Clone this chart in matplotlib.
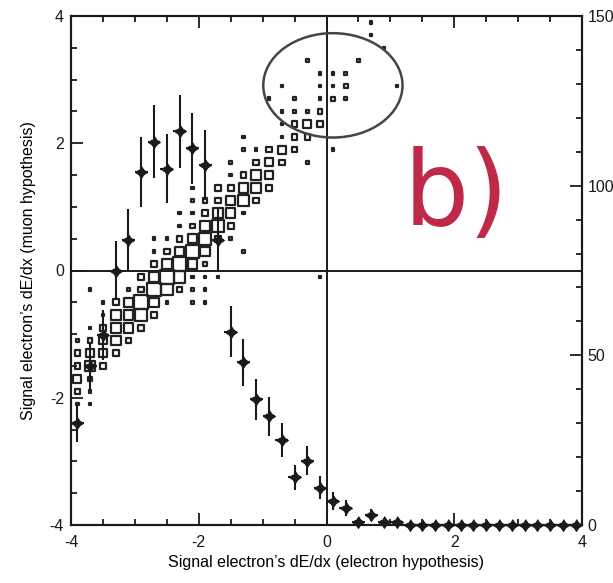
import numpy as np
import matplotlib.pyplot as plt
from matplotlib.patches import Ellipse
from matplotlib.ticker import MultipleLocator

plt.rcParams['font.family'] = ['Liberation Sans', 'DejaVu Sans']
plt.rcParams['axes.unicode_minus'] = False

# 1D histogram (right axis, entries per 0.2 bin)
prof_x = [-3.9, -3.7, -3.5, -3.3, -3.1, -2.9, -2.7, -2.5, -2.3, -2.1,
          -1.9, -1.7, -1.5, -1.3, -1.1, -0.9, -0.7, -0.5, -0.3, -0.1,
          0.1, 0.3, 0.5, 0.7, 0.9, 1.1, 1.3, 1.5, 1.7, 1.9,
          2.1, 2.3, 2.5, 2.7, 2.9, 3.1, 3.3, 3.5, 3.7, 3.9]
prof_n = [30, 47, 56, 75, 84, 104, 113, 105, 116, 111,
          106, 84, 57, 48, 37, 32, 25, 14, 19, 11,
          7, 5, 1, 3, 1, 1, 0, 0, 0, 0,
          0, 0, 0, 0, 0, 0, 0, 0, 0, 0]

# 2D box histogram: one entry per row (y bin centre)
box_rows = [-2.1, -1.9, -1.7, -1.5, -1.3, -1.1, -0.9, -0.7, -0.5, -0.3,
            -0.1, 0.1, 0.3, 0.5, 0.7, 0.9, 1.1, 1.3, 1.5, 1.7,
            1.9, 2.1, 2.3, 2.5, 2.7, 2.9, 3.1, 3.3, 3.5, 3.7, 3.9]
box_cols = [
    [-3.9, -3.7],
    [-3.9, -3.7],
    [-3.9, -3.7],
    [-3.9, -3.7, -3.5],
    [-3.9, -3.7, -3.5, -3.3],
    [-3.9, -3.7, -3.5, -3.3, -3.1],
    [-3.7, -3.5, -3.3, -3.1, -2.9],
    [-3.5, -3.3, -3.1, -2.9, -2.7],
    [-3.5, -3.3, -3.1, -2.9, -2.7, -2.5, -2.1, -1.9],
    [-3.7, -3.1, -2.9, -2.7, -2.5, -2.3, -2.1, -1.9],
    [-2.9, -2.7, -2.5, -2.3, -2.1, -1.9, -1.7, -0.1],
    [-2.7, -2.5, -2.3, -2.1, -1.9],
    [-2.7, -2.5, -2.3, -2.1, -1.9, -1.3],
    [-2.7, -2.5, -2.3, -2.1, -1.9, -1.7, -1.5],
    [-2.3, -2.1, -1.9, -1.7, -1.5],
    [-2.3, -2.1, -1.9, -1.7, -1.5, -1.3],
    [-2.1, -1.9, -1.7, -1.5, -1.3, -1.1],
    [-2.1, -1.7, -1.5, -1.3, -1.1, -0.9],
    [-1.5, -1.3, -1.1, -0.9],
    [-1.5, -1.1, -0.9, -0.7, -0.3],
    [-1.3, -1.1, -0.9, -0.7, -0.5, 0.1],
    [-1.3, -0.7, -0.5, -0.3],
    [-0.7, -0.5, -0.3, -0.1],
    [-0.7, -0.5, -0.3, -0.1],
    [-0.9, -0.5, -0.1, 0.1, 0.3],
    [-0.7, -0.1, 0.1, 0.3, 1.1],
    [-0.1, 0.1, 0.3],
    [-0.3, 0.5],
    [0.9],
    [0.7],
    [0.7],
]
box_cnts = [
    [1, 1],
    [2, 1],
    [5, 2],
    [3, 7, 3],
    [3, 5, 5, 3],
    [1, 2, 5, 7, 3],
    [1, 3, 7, 7, 3],
    [1, 7, 7, 10, 3],
    [1, 3, 7, 13, 7, 1, 1, 1],
    [1, 1, 3, 13, 10, 3, 1, 1],
    [3, 7, 13, 10, 1, 1, 1, 1],
    [3, 7, 13, 7, 2],
    [1, 3, 7, 13, 7, 1],
    [1, 1, 3, 7, 10, 3, 1],
    [1, 2, 7, 10, 3],
    [1, 1, 3, 7, 7, 1],
    [1, 2, 3, 7, 10, 3],
    [1, 3, 3, 7, 7, 3],
    [1, 3, 7, 5],
    [1, 3, 5, 3, 1],
    [1, 1, 3, 5, 3, 1],
    [1, 1, 3, 3],
    [1, 3, 5, 3],
    [1, 1, 1, 2],
    [1, 1, 1, 2, 1],
    [1, 1, 1, 2, 1],
    [1, 1, 1],
    [1, 1],
    [1],
    [1],
    [1],
]

bx, by, bn = [], [], []
for y, cols, cnts in zip(box_rows, box_cols, box_cnts):
    for x, n in zip(cols, cnts):
        bx.append(x)
        by.append(y)
        bn.append(n)
bn = np.array(bn)

fig = plt.figure(figsize=(6.13, 5.83), dpi=100)
ax = fig.add_axes([71 / 613, 1 - 525 / 583, 511 / 613, 509 / 583])

ax.scatter(bx, by, s=(3.1 * np.sqrt(bn) - 1.3) ** 2, marker='s',
           facecolors='none', edgecolors='#222222', linewidths=1.6, zorder=3)

ax.axhline(0, color='#1a1a1a', lw=1.4, zorder=2)
ax.axvline(0, color='#1a1a1a', lw=1.4, zorder=2)

ax.add_patch(Ellipse((0.10, 2.91), 2.18, 1.64, fill=False, ec='#454545', lw=1.8, zorder=4))
ax.text(2.04, 0.71, 'b)', color='#c0284a', fontsize=74, ha='center', va='baseline',
        family='DejaVu Sans')

ax.set_xlim(-4, 4)
ax.set_ylim(-4, 4)
ax.xaxis.set_major_locator(MultipleLocator(2))
ax.xaxis.set_minor_locator(MultipleLocator(0.5))
ax.yaxis.set_major_locator(MultipleLocator(2))
ax.yaxis.set_minor_locator(MultipleLocator(0.5))
ax.tick_params(which='both', direction='in', top=True, right=False, width=1.3,
               labelsize=11.5, colors='#1a1a1a')
ax.tick_params(which='major', length=8.5)
ax.tick_params(which='minor', length=4.5)
ax.tick_params(axis='x', pad=7)
ax.tick_params(axis='y', pad=5)
ax.set_xlabel('Signal electron\u2019s dE/dx (electron hypothesis)', fontsize=11.5, labelpad=4)
ax.set_ylabel('Signal electron\u2019s dE/dx (muon hypothesis)', fontsize=11.5, labelpad=10)

# four-pointed diamond marker
diamond = [(0, 1), (0.4, 0.4), (1, 0), (0.4, -0.4), (0, -1),
           (-0.4, -0.4), (-1, 0), (-0.4, 0.4)]

ax2 = ax.twinx()
ax2.set_ylim(0, 150)
ax2.errorbar(prof_x, prof_n, yerr=np.sqrt(prof_n), xerr=0.1, fmt='none',
             ecolor='#1a1a1a', elinewidth=1.5, capsize=0, clip_on=False)
ax2.plot(prof_x, prof_n, ls='none', marker=diamond, ms=8.5, color='#1a1a1a',
         mew=0.8, clip_on=False, zorder=5)
ax2.yaxis.set_major_locator(MultipleLocator(50))
ax2.yaxis.set_minor_locator(MultipleLocator(10))
ax2.tick_params(which='both', direction='in', width=1.3, labelsize=11.5, pad=4,
                colors='#1a1a1a')
ax2.tick_params(which='major', length=8.5)
ax2.tick_params(which='minor', length=4.5)

for a in (ax, ax2):
    for sp in a.spines.values():
        sp.set_linewidth(1.5)
        sp.set_color('#1a1a1a')

fig.savefig('out.png', dpi=100)
